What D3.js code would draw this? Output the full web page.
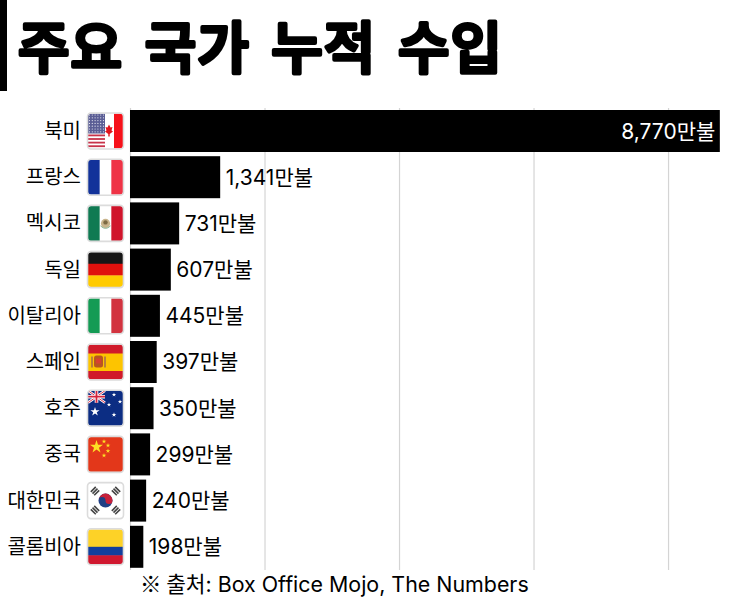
<!DOCTYPE html>
<html>
<head>
<meta charset="utf-8">
<script src="https://cdn.jsdelivr.net/npm/d3@7"></script>
<style>
html, body { margin: 0; padding: 0; background: #fff; }
svg { display: block; }
</style>
</head>
<body>
<svg id="chart" width="730" height="603"></svg>
<script>
const countries = ['북미', '프랑스', '멕시코', '독일', '이탈리아', '스페인', '호주', '중국', '대한민국', '콜롬비아'];
const revenues = [8770, 1341, 731, 607, 445, 397, 350, 299, 240, 198];
const flagCodes = ['na', 'fr', 'mx', 'de', 'it', 'es', 'au', 'cn', 'kr', 'co'];
const gridTicks = [0, 2000, 4000, 6000, 8000];
const titleWords = ['주요', '국가', '누적', '수입'];
const sourceMark = '※';
const sourceText = '출처: Box Office Mojo, The Numbers';

const KR_FONT = '"Noto Sans CJK KR", sans-serif';
const LATIN_FONT = 'Inter, "Noto Sans CJK KR", sans-serif';

const svg = d3.select('#chart');
const x = d3.scaleLinear().domain([0, 8780]).range([130, 720.5]);
const y = d3.scaleBand().domain(countries).range([110, 567.8]).paddingInner(0.0909).paddingOuter(0);

// 왼쪽 검은 띠 + 제목
svg.append('rect').attr('x', 0).attr('y', 0).attr('width', 7).attr('height', 91).attr('fill', '#000');
svg.append('text')
	.attr('x', 18).attr('y', 68)
	.style('font-family', KR_FONT)
	.style('font-size', '56px').style('font-weight', 500)
	.style('word-spacing', '8px')
	.style('letter-spacing', '1px')
	.attr('fill', '#000')
	.attr('stroke', '#000').attr('stroke-width', 4).attr('stroke-linejoin', 'round').attr('stroke-linecap', 'round')
	.text(titleWords.join(' '));

// 세로 격자
svg.append('g')
	.attr('transform', 'translate(0,570)')
	.call(d3.axisBottom(x).tickValues(gridTicks).tickSize(-462).tickFormat(''))
	.call((g) => g.select('.domain').remove())
	.call((g) => g.selectAll('line').attr('stroke', '#d4d4d4').attr('stroke-width', 1.2));

// 막대
svg.append('g')
	.selectAll('rect')
	.data(countries)
	.enter()
	.append('rect')
	.attr('x', x(0))
	.attr('y', (d) => y(d))
	.attr('width', (d, i) => x(revenues[i]) - x(0))
	.attr('height', y.bandwidth())
	.attr('fill', '#000');

// 나라 이름
svg.append('g')
	.selectAll('text')
	.data(countries)
	.enter()
	.append('text')
	.attr('x', 81)
	.attr('y', (d) => y(d) + y.bandwidth() / 2 + 7)
	.attr('text-anchor', 'end')
	.style('font-family', KR_FONT)
	.style('font-size', '20px')
	.attr('fill', '#000')
	.text((d) => d);

// 값 라벨
svg.append('g')
	.selectAll('text')
	.data(countries)
	.enter()
	.append('text')
	.attr('x', (d, i) => i === 0 ? x(revenues[i]) - 4.5 : x(revenues[i]) + 5.5)
	.attr('y', (d) => y(d) + y.bandwidth() / 2 + 7.5)
	.attr('text-anchor', (d, i) => i === 0 ? 'end' : 'start')
	.style('font-family', LATIN_FONT)
	.style('font-size', '21px')
	.attr('fill', (d, i) => i === 0 ? '#fff' : '#000')
	.text((d, i) => d3.format(',')(revenues[i]) + '만불');

// 출처
const source = svg.append('text')
	.attr('x', 140).attr('y', 592)
	.style('font-family', LATIN_FONT)
	.style('font-size', '21.4px')
	.attr('fill', '#000');
source.append('tspan').style('font-family', KR_FONT).text(sourceMark + ' ');
source.append('tspan').text(sourceText);

// 국기 - 35x35 기준 좌표
const stripesH = (g, colors) => colors.forEach((c, i) => g.append('rect')
	.attr('x', 0).attr('y', 35 * i / colors.length).attr('width', 35).attr('height', 35 / colors.length + 0.3).attr('fill', c));
const stripesV = (g, colors) => colors.forEach((c, i) => g.append('rect')
	.attr('y', 0).attr('x', 35 * i / colors.length).attr('height', 35).attr('width', 35 / colors.length + 0.3).attr('fill', c));
const star = (g, cx, cy, size, color) => g.append('path')
	.attr('d', d3.symbol(d3.symbolStar, size)())
	.attr('transform', `translate(${cx},${cy})`)
	.attr('fill', color);

const flagDraw = {
	na: (g) => {
		g.append('rect').attr('width', 35).attr('height', 35).attr('fill', '#fff');
		for (let i = 0; i < 4; i++) {
			g.append('rect').attr('x', 0).attr('y', 21 + i * 3.6).attr('width', 17).attr('height', 1.8).attr('fill', '#c8334a');
		}
		g.append('rect').attr('width', 17).attr('height', 20).attr('fill', '#5b5e95');
		for (let r = 0; r < 7; r++) {
			for (let c = 0; c < 6; c++) {
				g.append('circle').attr('cx', 1.5 + c * 2.8).attr('cy', 1.5 + r * 2.8).attr('r', 0.6).attr('fill', '#e8e8f2');
			}
		}
		g.append('rect').attr('x', 26).attr('width', 9).attr('height', 35).attr('fill', '#f6111a');
		g.append('path').attr('d', 'M21,11 L22.5,14 L24.5,13.5 L23.5,17 L25,18 L21.7,20.5 V23 H20.3 V20.5 L17,18 L18.5,17 L17.5,13.5 L19.5,14 Z').attr('fill', '#e2131c');
	},
	fr: (g) => stripesV(g, ['#12329a', '#ffffff', '#ef3346']),
	mx: (g) => {
		stripesV(g, ['#0f7a52', '#ffffff', '#d0142b']);
		g.append('circle').attr('cx', 17.5).attr('cy', 17.5).attr('r', 4.6).attr('fill', '#c9b48c');
		g.append('circle').attr('cx', 17.5).attr('cy', 16.5).attr('r', 2.2).attr('fill', '#7d6a44');
		g.append('path').attr('d', 'M12.5,20 Q17.5,25 22.5,20').attr('fill', 'none').attr('stroke', '#8db596').attr('stroke-width', 1);
	},
	de: (g) => stripesH(g, ['#161616', '#e0110d', '#ffcb00']),
	it: (g) => stripesV(g, ['#149b54', '#ffffff', '#d2333f']),
	es: (g) => {
		g.append('rect').attr('width', 35).attr('height', 35).attr('fill', '#d01a2a');
		g.append('rect').attr('y', 9).attr('width', 35).attr('height', 17.5).attr('fill', '#fdc400');
		g.append('rect').attr('x', 3).attr('y', 12).attr('width', 2).attr('height', 11).attr('fill', '#b9803a');
		g.append('rect').attr('x', 16).attr('y', 12).attr('width', 2).attr('height', 11).attr('fill', '#b9803a');
		g.append('rect').attr('x', 6).attr('y', 11).attr('width', 9).attr('height', 12).attr('rx', 2.5).attr('fill', '#b9561f');
		g.append('rect').attr('x', 8).attr('y', 14).attr('width', 5).attr('height', 5).attr('fill', '#d9402f');
	},
	au: (g) => {
		g.append('rect').attr('width', 35).attr('height', 35).attr('fill', '#0c2d83');
		g.append('path').attr('d', 'M0,0L17,12M17,0L0,12').attr('stroke', '#fff').attr('stroke-width', 2.6);
		g.append('path').attr('d', 'M0,0L17,12M17,0L0,12').attr('stroke', '#d3233c').attr('stroke-width', 0.9);
		g.append('path').attr('d', 'M8.5,0V12M0,6H17').attr('stroke', '#fff').attr('stroke-width', 3.6);
		g.append('path').attr('d', 'M8.5,0V12M0,6H17').attr('stroke', '#d3233c').attr('stroke-width', 1.8);
		star(g, 7, 21, 26, '#fff');
		star(g, 26, 4, 6, '#fff');
		star(g, 32, 11, 6, '#fff');
		star(g, 21, 14, 6, '#fff');
		star(g, 26, 24, 7, '#fff');
	},
	cn: (g) => {
		g.append('rect').attr('width', 35).attr('height', 35).attr('fill', '#e3371a');
		star(g, 8.5, 10, 52, '#fde024');
		star(g, 16, 4.5, 7, '#fde024');
		star(g, 20, 8.5, 7, '#fde024');
		star(g, 20, 14, 7, '#fde024');
		star(g, 16, 18.5, 7, '#fde024');
	},
	kr: (g) => {
		g.append('rect').attr('width', 35).attr('height', 35).attr('fill', '#fff');
		g.append('circle').attr('cx', 17.5).attr('cy', 17.5).attr('r', 7).attr('fill', '#1f3f84');
		g.append('path').attr('d', 'M10.5,17.5A7,7 0 0 1 24.5,17.5A3.5,3.5 0 0 1 17.5,17.5A3.5,3.5 0 0 0 10.5,17.5Z').attr('fill', '#c8213a');
		[[7, 8, -45], [28, 8, 45], [7, 27, 45], [28, 27, -45]].forEach((t) => {
			[-2.4, 0, 2.4].forEach((o) => g.append('rect')
				.attr('x', -3.5).attr('y', o - 0.8).attr('width', 7).attr('height', 1.6)
				.attr('transform', `translate(${t[0]},${t[1]}) rotate(${t[2]})`)
				.attr('fill', '#444'));
		});
	},
	co: (g) => {
		g.append('rect').attr('width', 35).attr('height', 18).attr('fill', '#fdd227');
		g.append('rect').attr('y', 17.5).attr('width', 35).attr('height', 9).attr('fill', '#123f9d');
		g.append('rect').attr('y', 26).attr('width', 35).attr('height', 9).attr('fill', '#d0182f');
	}
};

const defs = svg.append('defs');
defs.append('clipPath').attr('id', 'flagClip')
	.append('rect').attr('width', 35).attr('height', 35).attr('rx', 3);

countries.forEach((name, i) => {
	const g = svg.append('g').attr('transform', `translate(88,${y(name) + y.bandwidth() / 2 - 17.5})`);
	const inner = g.append('g').attr('clip-path', 'url(#flagClip)');
	flagDraw[flagCodes[i]](inner);
	g.append('rect')
		.attr('x', -0.5).attr('y', -0.5).attr('width', 36).attr('height', 36).attr('rx', 3.5)
		.attr('fill', 'none').attr('stroke', '#dcdcdc').attr('stroke-width', 1.6);
});
</script>
</body>
</html>
